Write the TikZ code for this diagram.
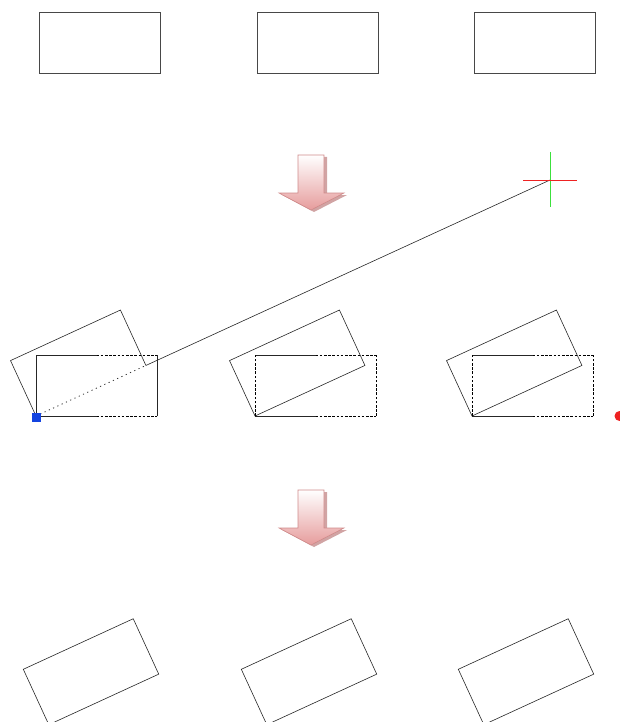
\documentclass[tikz,border=0pt]{standalone}
\usepackage{tikz}
\usepackage{xcolor}

\definecolor{arrowedge}{HTML}{D08A8A}
\definecolor{arrowlow}{HTML}{E69C9C}
\definecolor{arrowshade}{HTML}{C99494}
\definecolor{crossgreen}{HTML}{3CE03C}
\definecolor{crossred}{HTML}{EE2222}
\definecolor{gripblue}{HTML}{1444E0}

\begin{document}
\begin{tikzpicture}[x=1pt, y=-1pt,
    every node/.style={rectangle, minimum width=121pt, minimum height=61pt, inner sep=0pt, outer sep=0pt},
    box/.style={draw=black!72, line width=0.9pt},
    tilted/.style={rotate=24.7, anchor=south west},
    thin edge/.style={draw=black!85, line width=0.6pt},
    dash edge/.style={draw=black, line width=0.8pt, dash pattern=on 2.6pt off 1.6pt},
    dot edge/.style={draw=black!80, line width=0.8pt, dash pattern=on 1.2pt off 3.5pt}]

    \useasboundingbox (0,0) rectangle (620,722);

    % Top row: the three boxes
    \node (t1) [box, anchor=north west] at (39,12)  {};
    \node (t2) [box, anchor=north west] at (257,12) {};
    \node (t3) [box, anchor=north west] at (474,12) {};

    % First arrow
    \begin{scope}[shift={(0,0)}]
        \fill[arrowshade, opacity=0.85, shift={(3,2)}] (298,155) -- (324,155) -- (324,193) -- (344,193) -- (311,210) -- (279,193) -- (298,193) -- cycle;
        \path[draw=arrowedge, line width=0.6pt, top color=white, bottom color=arrowlow] (298,155) -- (324,155) -- (324,193) -- (344,193) -- (311,210) -- (279,193) -- (298,193) -- cycle;
    \end{scope}

    % Middle row: boxes before the turn
    \node (m1) at (36,416)  [anchor=south west] {};
    \node (m2) at (255,416) [anchor=south west] {};
    \node (m3) at (472,416) [anchor=south west] {};

    % Middle row: boxes after the turn
    \node (r1) at (36,416)  [tilted] {};
    \node (r2) at (255,416) [tilted, thin edge] {};
    \node (r3) at (472,416) [tilted, thin edge] {};

    % Cursor
    \coordinate (cur) at (550,180);
    \coordinate (curN) at (550,152);
    \coordinate (curS) at (550,207);
    \coordinate (curW) at (523,180);
    \coordinate (curE) at (577,180);

    % Edges of m1
    \draw[thin edge] (m1.south west) -- (m1.south);
    \draw[dash edge] (m1.south) -- (m1.south east);
    \draw[thin edge] (m1.north west) -- (m1.north);
    \draw[dash edge] (m1.north) -- (m1.north east);
    \draw[thin edge] (m1.south west) -- (m1.north west);
    \draw[thin edge] (m1.south east) -- (m1.north east);

    % Edges of m2
    \draw[thin edge] (m2.south west) -- (m2.south);
    \draw[dash edge] (m2.south) -- (m2.south east);
    \draw[thin edge] (m2.north west) -- (m2.north);
    \draw[dash edge] (m2.north) -- (m2.north east);
    \draw[dash edge] (m2.south west) -- (m2.north west);
    \draw[dash edge] (m2.south east) -- (m2.north east);

    % Edges of m3
    \draw[thin edge] (m3.south west) -- (m3.south);
    \draw[dash edge] (m3.south) -- (m3.south east);
    \draw[thin edge] (m3.north west) -- (m3.north);
    \draw[dash edge] (m3.north) -- (m3.north east);
    \draw[dash edge] (m3.south west) -- (m3.north west);
    \draw[dash edge] (m3.south east) -- (m3.north east);

    % Edges of r1 and the rubber band to the cursor
    \draw[thin edge] (r1.south east) -- (r1.north east) -- (r1.north west) -- (r1.south west);
    \draw[dot edge] (r1.south west) -- (r1.south east);
    \draw[thin edge] (r1.south east) -- (cur);

    % Cursor cross
    \draw[crossgreen, line width=0.9pt] (curN) -- (curS);
    \draw[crossred, line width=0.9pt] (curW) -- (curE);

    % Base point grip and the red dot
    \node (grip) at (36.5,417) [fill=gripblue, minimum width=9pt, minimum height=9pt] {};
    \node (dot) at (619.5,416) [circle, fill=crossred, minimum width=10pt, minimum height=10pt] {};

    % Second arrow
    \begin{scope}[shift={(0,335)}]
        \fill[arrowshade, opacity=0.85, shift={(3,2)}] (298,155) -- (324,155) -- (324,193) -- (344,193) -- (311,210) -- (279,193) -- (298,193) -- cycle;
        \path[draw=arrowedge, line width=0.6pt, top color=white, bottom color=arrowlow] (298,155) -- (324,155) -- (324,193) -- (344,193) -- (311,210) -- (279,193) -- (298,193) -- cycle;
    \end{scope}

    % Bottom row: the turned boxes
    \node (b1) at (48.8,724.7)  [tilted, thin edge] {};
    \node (b2) at (266.8,724.7) [tilted, thin edge] {};
    \node (b3) at (483.8,724.7) [tilted, thin edge] {};

\end{tikzpicture}
\end{document}
